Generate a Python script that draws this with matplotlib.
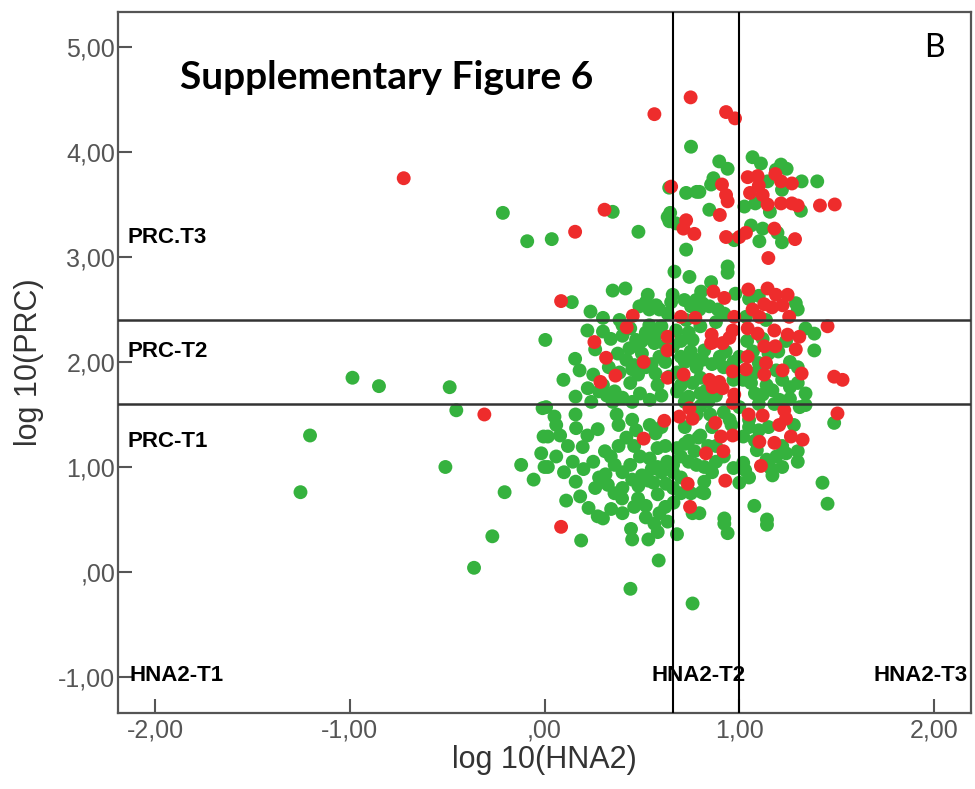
import numpy as np
import matplotlib
matplotlib.use('Agg')
import matplotlib.pyplot as plt
from matplotlib.ticker import FuncFormatter

plt.rcParams['font.family'] = ['Liberation Sans', 'DejaVu Sans']

# log10 values, group with PRC above reference (red) and the rest (green)
red_x = [0.75, 0.564, 0.932, 0.978, -0.723, 0.65, 0.308, 0.157,
         1.043, 1.094, 1.10, 1.055, 1.12, 1.145, 0.911, 0.932, 0.94, 1.185, 1.214, 1.27,
         1.214, 1.27, 1.30, 1.414, 1.49, 0.90,
         0.727, 0.713, 0.769, 1.034, 1.0, 0.932, 1.18, 1.286, 1.149,
         0.085, 0.867, 0.923, 1.046, 1.145, 1.188, 1.248, 1.128, 1.168, 1.222, 1.068,
         1.103, 1.256, 0.974, 0.453, 0.422, 0.70, 0.774, 1.453,
         0.858, 0.966, 1.043, 1.094, 1.18, 1.248, 1.308, 0.949, 0.863, 0.256, 0.632,
         0.855, 0.914, 1.043, 1.128, 1.185, 1.29, 0.316, 0.632, 0.509,
         1.137, 1.222, 1.128, 1.32, 1.034, 0.966, 0.846, 0.897, 0.863, 0.914, 1.487, 1.53,
         0.364, 0.287, 0.632, 0.714,
         0.974, 0.966, 1.231, 1.048, 1.12, 1.205, 1.24, 1.504, 0.877, 0.906, 0.966,
         1.265, 1.325, 1.103, 1.18, 0.829, 0.918, 1.111,
         0.615, 0.744, 0.692, 0.76, 0.509, -0.309,
         0.735, 0.747, 0.085, 0.928]
red_y = [4.52, 4.36, 4.38, 4.32, 3.75, 3.67, 3.45, 3.24,
         3.76, 3.77, 3.68, 3.61, 3.59, 3.50, 3.69, 3.59, 3.53, 3.79, 3.72, 3.70,
         3.51, 3.51, 3.49, 3.49, 3.50, 3.40,
         3.35, 3.27, 3.22, 3.23, 3.19, 3.19, 3.27, 3.17, 2.99,
         2.58, 2.67, 2.61, 2.69, 2.70, 2.64, 2.64, 2.55, 2.52, 2.54, 2.50,
         2.43, 2.43, 2.43, 2.44, 2.33, 2.43, 2.42, 2.34,
         2.26, 2.30, 2.32, 2.27, 2.30, 2.26, 2.24, 2.23, 2.19, 2.19, 2.24,
         2.18, 2.18, 2.05, 2.15, 2.15, 2.12, 2.04, 2.11, 2.00,
         1.99, 1.92, 1.88, 1.89, 1.93, 1.91, 1.83, 1.81, 1.76, 1.75, 1.86, 1.83,
         1.87, 1.81, 1.85, 1.88,
         1.69, 1.61, 1.54, 1.50, 1.49, 1.40, 1.46, 1.51, 1.42, 1.29, 1.30,
         1.29, 1.26, 1.24, 1.23, 1.13, 1.15, 1.01,
         1.44, 1.56, 1.48, 1.46, 1.27, 1.50,
         0.84, 0.62, 0.43, 0.87]

green_x = [0.752, 0.64, 0.727, 0.781, 0.35, 0.645, 1.068, 1.111, 0.897, 0.94, 1.214, 1.243,
           1.188, 1.145, 1.219, 1.32, 1.40, 0.867, 0.855, 0.795, 1.026, 1.082, 0.846, 1.157, 1.316,
           0.632, 0.641, 0.675, 0.037, 0.482, 0.727, 0.667, 0.744, 0.35, 0.415, 0.14,
           -0.214, -0.089,
           1.06, 0.974, 1.12, 1.196, 1.103, 1.219, 0.94, 0.94, 0.855, 0.804, 0.98, 1.05, 1.10,
           1.29, 1.30, 0.81, 0.846, 0.89, 0.923, 1.034, 1.137, 1.34, 1.385,
           0.53, 0.52, 0.573, 0.487, 0.538, 0.59, 0.658, 0.65, 0.718, 0.778, 0.752, 0.795,
           0.236, 0.30, 0.385, 0.40, 0.30, 0.538, 0.573, 0.632, 0.727, 0.004, 0.47, 0.50,
           0.564, 0.675, 0.76,
           -0.986, -0.85, -0.487, -0.453, -1.204, -1.253, -0.509, -0.12, -0.056, -0.205,
           -0.268, -0.362, -0.01, -0.005, -0.017, 0.0,
           0.157, 0.376, 0.436, 0.479, 0.564, 0.59, 0.462, 0.097, 0.222, 0.159,
           0.82, 0.90, 0.93, 1.07, 1.15, 1.24, 1.385, 0.97, 1.0, 0.70, 0.75, 0.66,
           0.385, 0.45, 0.52, 0.57, 0.68, 0.78, 0.80,
           0.28, 0.32, 0.40, 0.49, 0.54, 0.68, 0.74, 0.80,
           0.37, 0.38, 0.45, 0.47, 0.54, 0.57, 0.60, 0.31, 0.34, 0.38, 0.42, 0.46, 0.49,
           0.54, 0.58, 0.62, 0.63, 0.72, 0.77, 0.78,
           1.08, 1.12, 1.17, 1.205, 1.31, 1.34, 1.05, 1.02, 1.10, 1.19, 1.24, 1.14, 1.09,
           1.02, 0.97, 1.03, 1.16,
           0.81, 0.83, 0.80, 0.85, 0.92, 0.95, 1.0, 0.97, 1.02, 1.07, 1.10, 1.19, 1.22, 1.26,
           0.008, 0.051, 0.06, 0.159, 0.162, 0.273, 0.017, 0.017, 0.145, 0.196,
           0.111, 0.183, 0.226, 0.273, 0.30, 0.342, 0.398, 0.359, 0.325, 0.313, 0.482, 0.533,
           0.581, 0.59, 0.564, 0.581, 0.444, 0.45, 0.533, 0.632, 0.68, 0.662, 0.624, 0.188,
           0.586, 0.441, 0.76, 0.76, 0.752, 0.807, 0.82, 0.82, 0.795, 0.923, 0.923, 0.94,
           1.077, 1.142, 1.142, 1.427, 1.453, 1.487,
           0.06, 0.10, 0.20, 0.25, 0.28, 0.40, 0.44, 0.50, 0.55, 0.60, 0.66, 0.70, 0.74,
           0.82, 0.86, 0.88, 0.79, 0.84, 0.70, 0.66, 0.56, 0.45, 0.40, 0.48, 0.52, 0.70,
           1.00, 1.05, 1.17, 1.22, 1.30,
           0.22, 0.26, 0.34, 0.40, 0.44, 0.52, 0.60, 0.62, 0.33, 0.42, 0.50, 0.55, 0.62,
           0.25, 0.30, 0.36, 0.44, 0.48, 0.58, 0.64, 0.60, 0.45, 0.35, 0.24, 0.18,
           0.70, 0.74, 0.80, 0.88, 0.72, 0.78, 0.86, 0.92, 0.70, 0.76, 0.84, 0.88, 0.72,
           0.78, 0.86, 0.72, 0.80, 0.88, 0.74, 0.68, 0.96, 0.92,
           1.04, 1.12, 1.20, 1.26, 1.30, 1.06, 1.14, 1.30, 1.34, 1.10, 1.18, 1.26, 1.05,
           1.15, 1.28, 1.22, 1.30, 1.08,
           0.46, 0.52, 0.62, 0.40, 0.66, 0.58, 0.36, 0.26, 0.16, 0.12, 0.22, 0.08]
green_y = [4.05, 3.66, 3.61, 3.62, 3.43, 3.42, 3.95, 3.89, 3.91, 3.84, 3.88, 3.84,
           3.83, 3.72, 3.64, 3.72, 3.72, 3.75, 3.69, 3.62, 3.48, 3.51, 3.45, 3.43, 3.44,
           3.38, 3.34, 3.32, 3.17, 3.24, 3.07, 2.86, 2.81, 2.68, 2.70, 2.57,
           3.42, 3.15,
           3.30, 3.16, 3.27, 3.23, 3.15, 3.14, 2.91, 2.85, 2.76, 2.67, 2.65, 2.60, 2.63,
           2.56, 2.50, 2.56, 2.53, 2.50, 2.46, 2.43, 2.40, 2.32, 2.27,
           2.64, 2.57, 2.54, 2.53, 2.50, 2.50, 2.64, 2.57, 2.59, 2.59, 2.53, 2.50,
           2.48, 2.42, 2.40, 2.35, 2.29, 2.35, 2.30, 2.46, 2.40, 2.21, 2.21, 2.20,
           2.23, 2.30, 2.21,
           1.85, 1.77, 1.76, 1.54, 1.30, 0.76, 1.00, 1.02, 0.88, 0.76,
           0.34, 0.04, 1.56, 1.29, 1.13, 1.00,
           2.03, 2.08, 2.13, 2.15, 2.18, 2.05, 1.97, 1.83, 1.75, 1.67,
           2.11, 2.05, 2.10, 2.10, 2.08, 2.20, 2.11, 2.00, 2.05, 2.05, 2.10, 2.15,
           1.90, 1.93, 1.95, 1.89, 1.90, 1.95, 1.85,
           1.72, 1.68, 1.66, 1.70, 1.64, 1.72, 1.67, 1.70,
           1.50, 1.40, 1.45, 1.35, 1.40, 1.32, 1.38, 1.15, 1.10, 1.20, 1.28, 1.20, 1.10,
           1.08, 1.18, 1.20, 1.05, 1.22, 1.15, 1.02,
           1.70, 1.69, 1.73, 1.64, 1.57, 1.59, 1.38, 1.29, 1.35, 1.10, 1.13, 1.07, 1.16,
           1.04, 0.99, 0.97, 0.99,
           2.02, 1.73, 1.58, 1.50, 1.52, 1.45, 1.57, 1.83, 1.83, 1.89, 1.99, 1.92, 1.83, 1.76,
           1.57, 1.48, 1.40, 1.50, 1.37, 1.36, 1.29, 1.00, 1.05, 1.19,
           0.68, 0.72, 0.61, 0.53, 0.51, 0.60, 0.70, 0.75, 0.83, 0.93, 0.82, 0.87,
           0.74, 0.56, 0.46, 0.38, 0.41, 0.31, 0.31, 0.48, 0.36, 0.66, 0.84, 0.30,
           0.11, -0.16, -0.30, 0.56, 0.75, 0.76, 0.75, 0.86, 0.56, 0.51, 0.46, 0.37,
           0.63, 0.50, 0.45, 0.85, 0.65, 1.42,
           1.10, 0.95, 0.98, 1.05, 0.90, 0.95, 1.02, 0.92, 0.98, 0.95, 1.02, 1.10, 1.05,
           1.00, 0.95, 1.05, 1.28, 1.20, 0.90, 0.80, 0.85, 0.88, 0.80, 0.70, 0.63, 0.75,
           0.85, 0.90, 0.92, 1.00, 1.05,
           2.30, 2.12, 2.22, 2.25, 2.32, 2.28, 2.34, 2.16, 1.95, 2.02, 2.08, 1.98, 2.00,
           1.88, 1.78, 1.72, 1.80, 1.88, 1.78, 1.86, 1.68, 1.62, 1.62, 1.62, 1.92,
           2.20, 2.28, 2.34, 2.38, 2.00, 2.02, 1.98, 1.95, 1.78, 1.80, 1.62, 1.68, 1.62,
           1.50, 1.38, 1.38, 1.30, 1.20, 1.25, 1.18, 1.40, 1.10,
           2.20, 2.22, 2.10, 2.00, 1.95, 1.80, 1.78, 1.80, 1.70, 1.60, 1.60, 1.65, 1.45,
           1.38, 1.40, 1.20, 1.15, 1.25,
           0.62, 0.52, 0.62, 0.56, 0.95, 1.00, 1.02, 0.80, 0.86, 1.20, 1.30, 1.30]

# cut-offs drawn as reference lines
hna2_cuts = [0.66, 1.0]
prc_cuts = [1.6, 2.4]

fig = plt.figure(figsize=(9.75, 7.89), dpi=100)
ax = fig.add_axes([0.121, 0.0963, 0.875, 0.8885])

ax.scatter(green_x, green_y, s=100, color='#35b23e', edgecolors='none', zorder=3)
ax.scatter(red_x, red_y, s=100, color='#ee2c2c', edgecolors='none', zorder=4)

for c in hna2_cuts:
    ax.axvline(c, color='black', lw=1.5, zorder=5)
for c in prc_cuts:
    ax.axhline(c, color='#333333', lw=1.8, zorder=5)

ax.set_xlim(-2.19, 2.19)
ax.set_ylim(-1.343, 5.333)
ax.set_xticks([-2, -1, 0, 1, 2])
ax.set_yticks([-1, 0, 1, 2, 3, 4, 5])

def comma_fmt(v, pos):
    s = f'{v:.2f}'.replace('.', ',')
    if s.startswith('0,'):
        s = s[1:]
    return s

ax.xaxis.set_major_formatter(FuncFormatter(comma_fmt))
ax.yaxis.set_major_formatter(FuncFormatter(comma_fmt))
ax.tick_params(direction='in', length=10, width=1.5, colors='#555555',
               labelsize=18, labelcolor='#555555', pad=2)
ax.tick_params(axis='x', pad=4)
for sp in ax.spines.values():
    sp.set_color('#555555')
    sp.set_linewidth(1.6)

ax.set_xlabel('log 10(HNA2)', fontsize=22, color='#333333', labelpad=2)
ax.set_ylabel('log 10(PRC)', fontsize=22, color='#333333', labelpad=10)

ax.text(-1.87, 4.71, 'Supplementary Figure 6', fontsize=28, fontweight='bold',
        family=['Lato', 'DejaVu Sans'], va='center', ha='left')
ax.text(2.0, 4.99, 'B', fontsize=23, family=['Lato', 'DejaVu Sans'], va='center', ha='center')

for lbl, yy in [('PRC.T3', 3.19), ('PRC-T2', 2.10), ('PRC-T1', 1.24)]:
    ax.text(-2.14, yy, lbl, fontsize=16, fontweight='bold', va='center', ha='left')
for lbl, xx in [('HNA2-T1', -2.13), ('HNA2-T2', 0.55), ('HNA2-T3', 1.69)]:
    ax.text(xx, -0.99, lbl, fontsize=16, fontweight='bold', va='center', ha='left')

fig.savefig('out.png', dpi=100)
